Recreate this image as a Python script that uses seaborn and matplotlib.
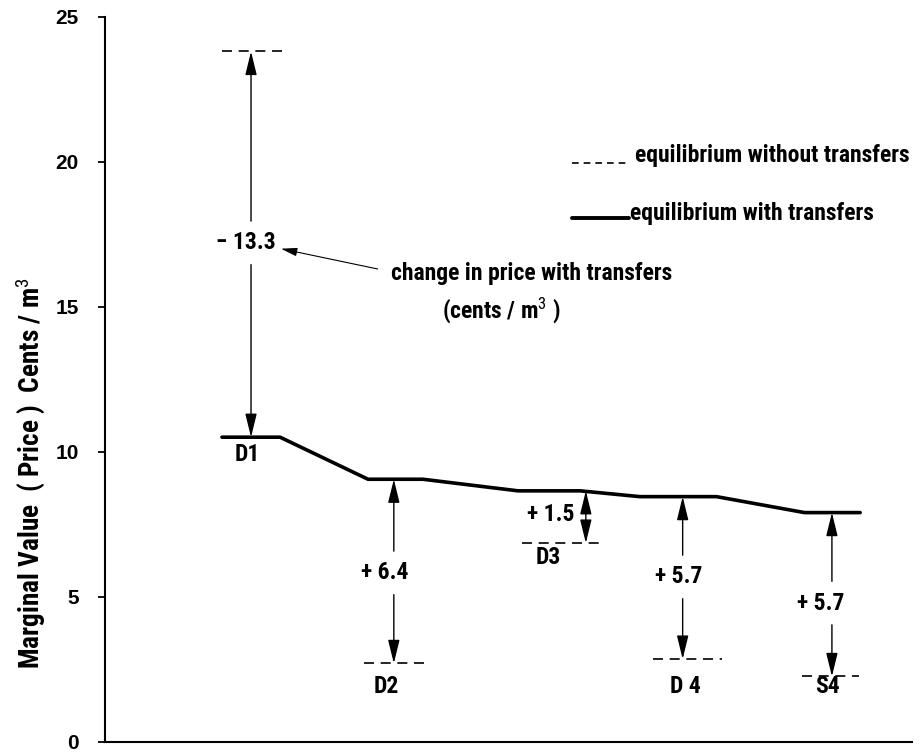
import pandas as pd
import matplotlib.pyplot as plt
import seaborn as sns
from matplotlib import font_manager as fm

# prices at each node (cents / m3)
nodes = ['D1', 'D2', 'D3', 'D 4', 'S4']
price_with = [10.5, 9.05, 8.65, 8.45, 7.9]
price_without = [23.8, 2.7, 6.85, 2.85, 2.25]
change_labels = ['\u2212 13.3', '+ 6.4', '+ 1.5', '+ 5.7', '+ 5.7']

# layout along the (unlabelled) x axis, 0-100
flat_start = [14.5, 32.6, 51.2, 66.3, 86.7]
flat_end = [21.7, 39.4, 58.9, 75.8, 93.6]
dash_start = [14.5, 32.1, 51.7, 67.9, 86.4]
dash_end = [22.3, 40.3, 61.6, 76.5, 93.4]
arrow_x = [18.1, 35.8, 59.6, 71.6, 90.1]
label_x = [17.6, 34.9, 54.9, 71.9, 89.5]
label_y = [9.9, 1.9, 6.35, 1.9, 1.9]
change_x = [17.5, 34.7, 55.3, 71.1, 88.7]
change_y = [17.2, 5.82, 7.82, 5.68, 4.78]

sns.set_theme(style='ticks')

# pick a narrow face if one is installed, else plain sans
installed = {(f.name, f.stretch) for f in fm.fontManager.ttflist}
family, stretch = 'DejaVu Sans', 'normal'
for name in ['Roboto Condensed', 'Liberation Sans Narrow', 'Open Sans Condensed']:
    if any(n == name for n, _ in installed):
        family = name
        break
else:
    for name in ['Noto Sans', 'Open Sans', 'Roboto', 'DejaVu Sans']:
        if (name, 'condensed') in installed or (name, 'semi-condensed') in installed:
            family = name
            stretch = 'condensed' if (name, 'condensed') in installed else 'semi-condensed'
            break

plt.rcParams['font.family'] = [family, 'DejaVu Sans']
plt.rcParams['font.stretch'] = stretch
plt.rcParams['mathtext.fontset'] = 'custom'
plt.rcParams['mathtext.rm'] = family
plt.rcParams['mathtext.it'] = family
for key in ['text.color', 'axes.labelcolor', 'ytick.color', 'xtick.color', 'axes.edgecolor']:
    plt.rcParams[key] = 'black'

fig = plt.figure(figsize=(9.21, 7.52), dpi=100)
ax = fig.add_axes([0.114, 0.0137, 0.876, 0.9641])

weight = 'bold'
# size the text so the legend line is as wide as in the picture (273 px)
renderer = fig.canvas.get_renderer()
probe = fig.text(0, 0, 'equilibrium without transfers', fontsize=15, fontweight=weight)
width = probe.get_window_extent(renderer).width
probe.remove()
fs = min(15 * 275 / width, 18)

# solid path: flat part at every node joined by slopes
path = pd.DataFrame({
    'x': [v for pair in zip(flat_start, flat_end) for v in pair],
    'y': [p for p in price_with for _ in range(2)],
})
sns.lineplot(data=path, x='x', y='y', sort=False, estimator=None,
             color='black', lw=2.6, ax=ax)

# dashed equilibrium without transfers
dash = pd.DataFrame({
    'x': [v for pair in zip(dash_start, dash_end) for v in pair],
    'y': [p for p in price_without for _ in range(2)],
    'node': [n for n in nodes for _ in range(2)],
})
sns.lineplot(data=dash, x='x', y='y', units='node', sort=False, estimator=None,
             color='black', lw=1.2, linestyle=(0, (6, 4)), ax=ax)

head = dict(arrowstyle='-|>,head_length=0.9,head_width=0.22', color='black',
            lw=1.0, shrinkA=0, shrinkB=0, mutation_scale=16)
gap = 0.75
for i in range(len(nodes)):
    top = max(price_with[i], price_without[i])
    bot = min(price_with[i], price_without[i])
    xa = arrow_x[i]
    if i == 2:
        ax.annotate('', xy=(xa, top), xytext=(xa, bot),
                    arrowprops=dict(head, arrowstyle='<|-|>,head_length=0.9,head_width=0.22'))
    else:
        ax.annotate('', xy=(xa, top), xytext=(xa, change_y[i] + gap), arrowprops=head)
        ax.annotate('', xy=(xa, bot), xytext=(xa, change_y[i] - gap), arrowprops=head)
    ax.text(change_x[i], change_y[i], change_labels[i], ha='center', va='center',
            fontsize=fs, fontweight=weight)
    ax.text(label_x[i], label_y[i], nodes[i], ha='center', va='center',
            fontsize=fs, fontweight=weight)

# legend drawn by hand
ax.plot([57.9, 64.8], [19.95, 19.95], color='black', lw=1.2, linestyle=(0, (4, 3)))
ax.text(65.7, 20.2, 'equilibrium without transfers', ha='left', va='center',
        fontsize=fs, fontweight=weight)
ax.plot([57.9, 64.9], [18.06, 18.06], color='black', lw=2.8)
ax.text(65.1, 18.2, 'equilibrium with transfers', ha='left', va='center',
        fontsize=fs, fontweight=weight)

# annotation on the change arrows
ax.annotate('', xy=(21.8, 17.0), xytext=(33.8, 16.3),
            arrowprops=dict(arrowstyle='-|>,head_length=0.7,head_width=0.18',
                            color='black', lw=0.8, shrinkA=0, shrinkB=0,
                            mutation_scale=14))
ax.text(35.4, 16.16, 'change in price with transfers', ha='left', va='center',
        fontsize=fs, fontweight=weight)
ax.text(41.8, 14.89, '(cents / m$^{3}$ )', ha='left', va='center',
        fontsize=fs, fontweight=weight)

ax.set_xlim(0, 100)
ax.set_ylim(0, 25)
ax.set_xticks([])
ax.set_yticks([0, 5, 10, 15, 20, 25])
ax.set_yticklabels(['0', '5', '10', '15', '20', '25'], fontweight='bold',
                   fontsize=15, family=['Liberation Sans', 'DejaVu Sans'],
                   stretch='normal')
ax.tick_params(axis='y', direction='out', length=5, width=1.3, pad=14)
ax.set_xlabel('')
ax.set_ylabel('Marginal Value  ( Price )  Cents / m$^{3}$', fontsize=fs * 1.15,
              fontweight=weight)
ax.yaxis.set_label_coords(-0.072, 0.37)
sns.despine(ax=ax)
for s in ['left', 'bottom']:
    ax.spines[s].set_linewidth(1.5)

fig.savefig('out.png', dpi=100)
